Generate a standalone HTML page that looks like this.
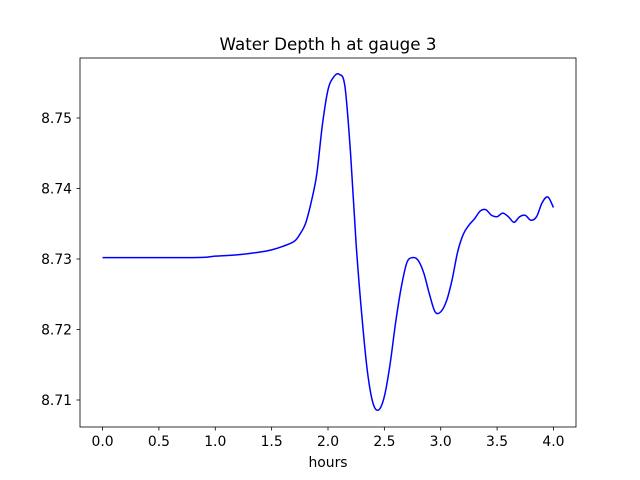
<!DOCTYPE html>
<html><head><meta charset="utf-8"><style>
body{margin:0;background:#fff}
svg{display:block;font-family:"DejaVu Sans","Liberation Sans",sans-serif}
</style></head><body>
<svg id="chart" width="640" height="480">
<rect x="0" y="0" width="640" height="480" fill="#fff"/>
<text x="328" y="50" font-size="16.7" text-anchor="middle">Water Depth h at gauge 3</text>
<g id="plot"></g>
<rect x="80" y="58" width="496" height="369" fill="none" stroke="#000" stroke-width="0.8"/>
<text x="328" y="467" font-size="13.9" text-anchor="middle">hours</text>
</svg>
<script>
const times=[0,0.8,1.0,1.2,1.4,1.5,1.6,1.7,1.75,1.8,1.85,1.9,1.95,2.0,2.05,2.1,2.15,2.2,2.25,2.3,2.35,2.4,2.45,2.5,2.55,2.6,2.65,2.7,2.75,2.8,2.85,2.9,2.95,3.0,3.05,3.1,3.15,3.2,3.25,3.3,3.35,3.4,3.45,3.5,3.55,3.6,3.65,3.7,3.75,3.8,3.85,3.9,3.95,4.0];
const depth=[8.7302,8.7302,8.7304,8.7306,8.7310,8.7313,8.7318,8.7325,8.7335,8.735,8.738,8.742,8.749,8.754,8.7558,8.7562,8.7545,8.745,8.732,8.722,8.714,8.7095,8.7086,8.7105,8.715,8.721,8.726,8.7295,8.7302,8.7298,8.728,8.725,8.7225,8.7225,8.724,8.727,8.731,8.7335,8.7348,8.7357,8.7368,8.737,8.7362,8.736,8.7365,8.736,8.7352,8.736,8.7362,8.7355,8.736,8.738,8.7388,8.7373];
const xTicks=[0,0.5,1.0,1.5,2.0,2.5,3.0,3.5,4.0];
const xTickLabels=["0.0","0.5","1.0","1.5","2.0","2.5","3.0","3.5","4.0"];
const yTicks=[8.71,8.72,8.73,8.74,8.75];
const yTickLabels=["8.71","8.72","8.73","8.74","8.75"];
const X=t=>80+(t+0.2)/4.4*496;
const Y=v=>118+(8.75-v)*7050;
const g=document.getElementById('plot');
const NS='http://www.w3.org/2000/svg';
function mk(tag,attrs){const e=document.createElementNS(NS,tag);for(const k in attrs)e.setAttribute(k,attrs[k]);g.appendChild(e);return e;}
xTicks.forEach((t,i)=>{
 const l=mk('line',{x1:X(t),x2:X(t),y1:427,y2:430.5,stroke:'#000','stroke-width':0.8});
 
 
 const tx=mk('text',{x:X(t),y:446,'font-size':13.9,'text-anchor':'middle'});tx.textContent=xTickLabels[i];
 
 
});
yTicks.forEach((v,i)=>{
 const l=mk('line',{x1:76.5,x2:80,y1:Y(v),y2:Y(v),stroke:'#000','stroke-width':0.8});
 
 
 const tx=mk('text',{x:72,y:Y(v)+5,'font-size':13.9,'text-anchor':'end'});tx.textContent=yTickLabels[i];
 
 
});
const P=times.map((t,i)=>[X(t),Y(depth[i])]);
let d='M'+P[0][0]+','+P[0][1];
for(let i=0;i<P.length-1;i++){
 const p0=P[Math.max(0,i-1)],p1=P[i],p2=P[i+1],p3=P[Math.min(P.length-1,i+2)];
 const c1=[p1[0]+(p2[0]-p0[0])/6,p1[1]+(p2[1]-p0[1])/6];
 const c2=[p2[0]-(p3[0]-p1[0])/6,p2[1]-(p3[1]-p1[1])/6];
 d+=`C${c1[0]},${c1[1]} ${c2[0]},${c2[1]} ${p2[0]},${p2[1]}`;
}
const line=mk('path',{d:d,fill:'none',stroke:'#0000ff','stroke-width':1.5});


</script>
</body></html>
